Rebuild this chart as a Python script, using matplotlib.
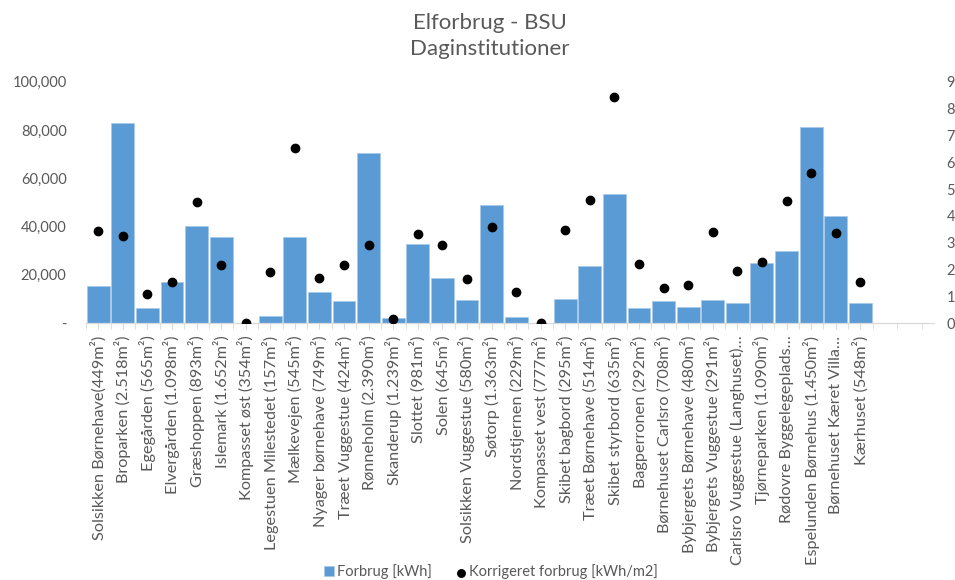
import matplotlib
matplotlib.use("Agg")
import matplotlib.pyplot as plt
import numpy as np
from matplotlib.ticker import FuncFormatter, MultipleLocator

plt.rcParams['font.family'] = ['Lato', 'DejaVu Sans']

names = [
    "Solsikken Børnehave(449m²)", "Broparken (2.518m²)", "Egegården (565m²)",
    "Elvergården (1.098m²)", "Græshoppen (893m²)", "Islemark (1.652m²)",
    "Kompasset øst (354m²)", "Legestuen Milestedet (157m²)", "Mælkevejen (545m²)",
    "Nyager børnehave (749m²)", "Træet Vuggestue (424m²)", "Rønneholm (2.390m²)",
    "Skanderup (1.239m²)", "Slottet (981m²)", "Solen (645m²)",
    "Solsikken Vuggestue (580m²)", "Søtorp (1.363m²)", "Nordstjernen (229m²)",
    "Kompasset vest (777m²)", "Skibet bagbord (295m²)", "Træet Børnehave (514m²)",
    "Skibet styrbord (635m²)", "Bagperronen (292m²)", "Børnehuset Carlsro (708m²)",
    "Bybjergets Børnehave (480m²)", "Bybjergets Vuggestue (291m²)",
    "Carlsro Vuggestue (Langhuset)…", "Tjørneparken (1.090m²)",
    "Rødovre Byggelegeplads…", "Espelunden Børnehus (1.450m²)",
    "Børnehuset Kæret Villa…", "Kærhuset (548m²)",
]

forbrug = [15300, 83000, 6100, 17100, 40400, 35700, 0, 2800, 35500, 12800,
           9000, 70300, 2000, 32800, 18750, 9400, 49000, 2500, 0, 10100,
           23500, 53600, 6250, 9000, 6700, 9700, 8500, 24900, 30000, 81400,
           44200, 8200]

korrigeret = [3.43, 3.26, 1.08, 1.54, 4.51, 2.15, 0.0, 1.89, 6.52, 1.69,
              2.16, 2.92, 0.16, 3.32, 2.91, 1.64, 3.58, 1.17, 0.0, 3.48,
              4.59, 8.42, 2.21, 1.29, 1.42, 3.41, 1.95, 2.28, 4.54, 5.59,
              3.36, 1.52]

grey = '#595959'
x = np.arange(len(names))

fig = plt.figure(figsize=(9.55, 5.8), dpi=100)
ax = fig.add_axes([0.090, 0.443, 0.888, 0.416])
ax2 = ax.twinx()

bars = ax.bar(x, forbrug, width=0.93, color='#5b9bd5', edgecolor='#a9c9ea',
              linewidth=0.5, label='Forbrug [kWh]', zorder=2)
dots = ax2.scatter(x, korrigeret, s=36, color='black', zorder=3,
                   label='Korrigeret forbrug [kWh/m2]')

ax.set_xlim(-0.5, 34.0)
ax.set_ylim(0, 100000)
ax2.set_ylim(0, 9)

ax.set_xticks(x)
ax.set_xticklabels(names, rotation=90, fontsize=11.7, color=grey)
ax.set_xticks(np.arange(-0.5, 34.01, 1.0), minor=True)
ax.tick_params(axis='x', which='both', length=4, color='#d9d9d9', pad=5)

ax.yaxis.set_major_locator(MultipleLocator(20000))
ax.yaxis.set_major_formatter(FuncFormatter(lambda v, p: '-' if v == 0 else f'{int(v):,}'))
ax.tick_params(axis='y', length=0, labelsize=10.5, labelcolor=grey, pad=14)
ax2.yaxis.set_major_locator(MultipleLocator(1))
ax2.tick_params(axis='y', length=0, labelsize=10.5, labelcolor=grey, pad=9)

for a in (ax, ax2):
    for s in ('top', 'left', 'right'):
        a.spines[s].set_visible(False)
    a.spines['bottom'].set_color('#d9d9d9')

fig.text(0.513, 0.960, 'Elforbrug - BSU', ha='center', va='center',
         fontsize=16, color=grey)
fig.text(0.513, 0.916, 'Daginstitutioner', ha='center', va='center',
         fontsize=16, color=grey)

fig.legend(handles=[bars, dots], loc='center', bbox_to_anchor=(0.514, 0.014),
           ncol=2, frameon=False, fontsize=10.5, labelcolor=grey,
           handlelength=0.7, handletextpad=0.2, columnspacing=1.6,
           markerscale=0.9)

fig.savefig('out.png', dpi=100)
